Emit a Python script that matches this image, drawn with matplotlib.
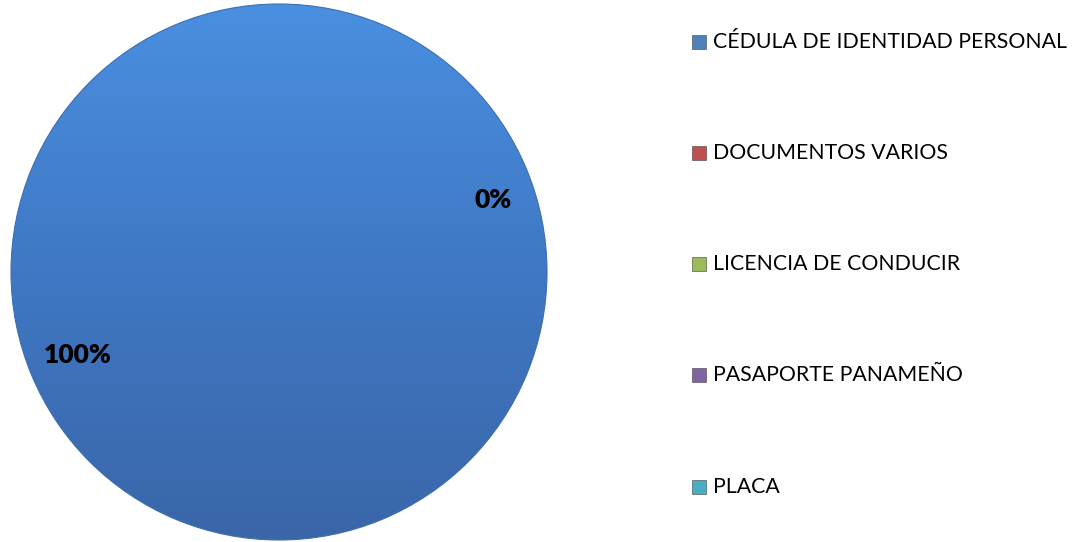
import numpy as np
import matplotlib
matplotlib.use('Agg')
import matplotlib.pyplot as plt
from matplotlib.colors import LinearSegmentedColormap
from matplotlib.patches import Rectangle

# datos del gráfico
categorias = ['CÉDULA DE IDENTIDAD PERSONAL', 'DOCUMENTOS VARIOS',
              'LICENCIA DE CONDUCIR', 'PASAPORTE PANAMEÑO', 'PLACA']
valores = [100, 0, 0, 0, 0]
etiquetas = ['100%', '0%']
colores = ['#4f81bd', '#c0504d', '#9bbb59', '#8064a2', '#4bacc6']

plt.rcParams['font.family'] = ['Lato', 'DejaVu Sans']

W, H = 1077, 542
fig = plt.figure(figsize=(W / 100, H / 100), dpi=100)

# pastel
cx, cy, r = 279, 272, 268
ax = fig.add_axes([(cx - r) / W, (H - cy - r) / H, 2 * r / W, 2 * r / H])
wedges, _ = ax.pie(valores, colors=colores, startangle=90, counterclock=False,
                   radius=1, wedgeprops=dict(linewidth=0))
ax.set_xlim(-1, 1)
ax.set_ylim(-1, 1)
ax.set_aspect('auto')
ax.axis('off')

# degradado vertical como el de Excel
cmap = LinearSegmentedColormap.from_list('azul', ['#3a66a8', '#3f78c4', '#4a8fe0'])
grad = np.linspace(0, 1, 256).reshape(-1, 1)
for w in wedges:
    if w.theta2 - w.theta1 > 1:
        w.set_facecolor('none')
        im = ax.imshow(grad, extent=[-1, 1, -1, 1], origin='lower', cmap=cmap,
                       aspect='auto', zorder=0)
        im.set_clip_path(w)
        w.set_edgecolor('#3d6fae')
        w.set_linewidth(0.8)

ax.text(-0.75, -0.31, etiquetas[0], fontsize=19, fontweight='heavy', ha='center', va='center')
ax.text(0.80, 0.27, etiquetas[1], fontsize=19, fontweight='heavy', ha='center', va='center')

# leyenda
ys = [42, 153, 264, 375, 487]
for nombre, col, y in zip(categorias, colores, ys):
    fig.patches.append(Rectangle(((692) / W, (H - y - 7) / H), 14 / W, 14 / H,
                                 transform=fig.transFigure, facecolor=col,
                                 edgecolor='#404040', linewidth=0.4))
    fig.text(713 / W, (H - y) / H, nombre, fontsize=15.3, va='center', ha='left')

fig.savefig('out.png', dpi=100)
